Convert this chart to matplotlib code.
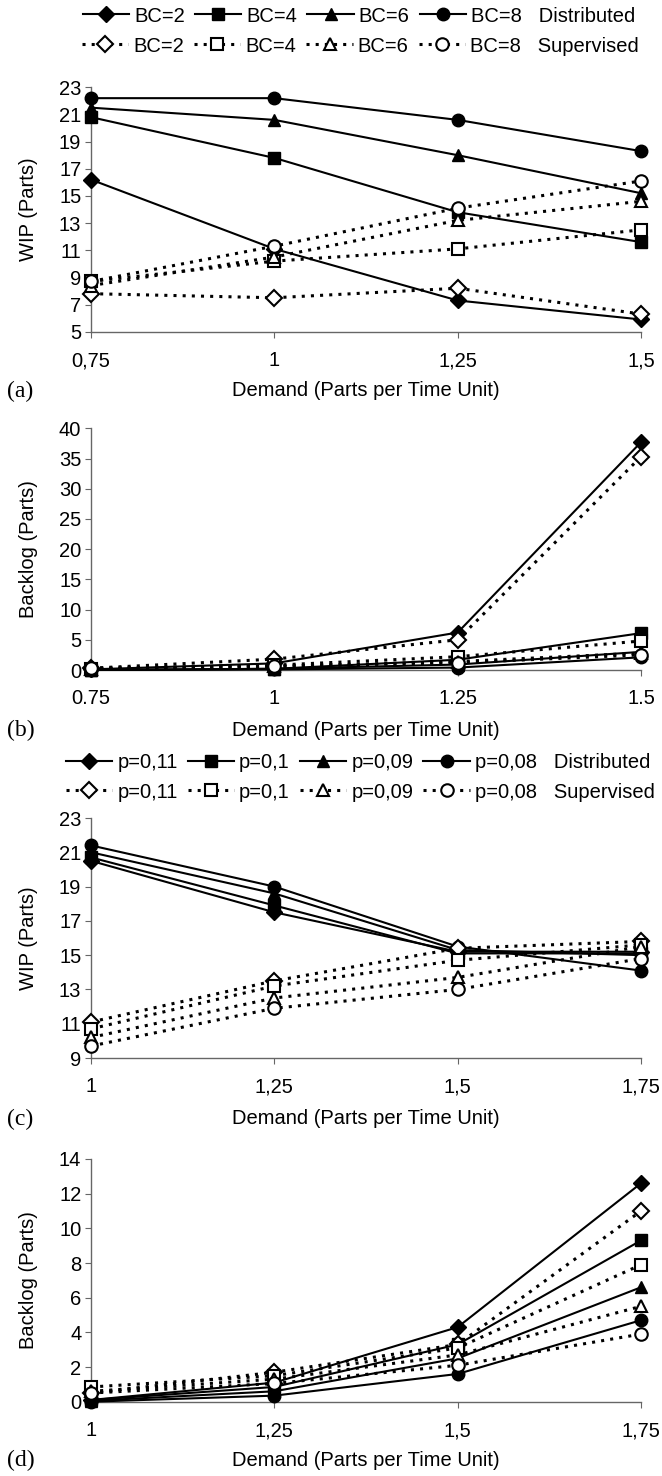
import numpy as np
import matplotlib.pyplot as plt

plt.rcParams['font.family'] = ['Liberation Sans', 'DejaVu Sans']

# x values and tick labels
demand_ab = [0.75, 1, 1.25, 1.5]
demand_cd = [1, 1.25, 1.5, 1.75]
ticks_a = ['0,75', '1', '1,25', '1,5']
ticks_b = ['0.75', '1', '1.25', '1.5']
ticks_cd = ['1', '1,25', '1,5', '1,75']

bc_labels = ['BC=2', 'BC=4', 'BC=6', 'BC=8']
p_labels = ['p=0,11', 'p=0,1', 'p=0,09', 'p=0,08']

# (a) WIP vs demand, buffer capacity
wip_a_dist = [[16.2, 11.1, 7.3, 5.9],
              [20.8, 17.8, 13.8, 11.6],
              [21.5, 20.6, 18.0, 15.2],
              [22.2, 22.2, 20.6, 18.3]]
wip_a_sup = [[7.8, 7.5, 8.2, 6.3],
             [8.7, 10.2, 11.1, 12.5],
             [8.4, 10.5, 13.2, 14.6],
             [8.7, 11.3, 14.1, 16.1]]

# (b) backlog vs demand, buffer capacity
bl_b_dist = [[0.1, 1.1, 6.2, 37.7],
             [0.0, 0.2, 1.7, 6.1],
             [0.0, 0.2, 0.9, 3.0],
             [0.0, 0.1, 0.4, 2.1]]
bl_b_sup = [[0.3, 1.8, 5.0, 35.3],
            [0.2, 0.8, 2.2, 4.8],
            [0.2, 0.6, 1.4, 2.8],
            [0.3, 0.6, 1.2, 2.5]]

# (c) WIP vs demand, failure probability
wip_c_dist = [[20.5, 17.5, 15.2, 15.2],
              [20.7, 17.9, 15.1, 15.1],
              [21.0, 18.6, 15.3, 15.0],
              [21.4, 19.0, 15.5, 14.1]]
wip_c_sup = [[11.1, 13.5, 15.4, 15.8],
             [10.7, 13.2, 14.7, 15.6],
             [10.2, 12.5, 13.7, 15.5],
             [9.7, 11.9, 13.0, 14.8]]

# (d) backlog vs demand, failure probability
bl_d_dist = [[0.1, 1.1, 4.3, 12.6],
             [0.1, 0.85, 3.3, 9.3],
             [0.05, 0.6, 2.5, 6.6],
             [0.0, 0.35, 1.6, 4.7]]
bl_d_sup = [[0.5, 1.7, 3.3, 11.0],
            [0.85, 1.5, 3.1, 7.9],
            [0.6, 1.3, 2.7, 5.5],
            [0.5, 1.05, 2.1, 3.9]]

markers = ['D', 's', '^', 'o']
msizes = [8.5, 8, 9, 9]
dotted = (0, (1, 2))
FS = 14.5
H = 1476.0
W = 662.0

fig = plt.figure(figsize=(6.62, 14.76), dpi=100)


def make_axes(top, bottom):
    left, right = 91, 641
    return fig.add_axes([left / W, 1 - bottom / H, (right - left) / W, (bottom - top) / H])


def draw(ax, x, dist, sup, ymin, ymax, ystep, xtl, ylabel):
    hd, hs = [], []
    for vals, m, ms in zip(dist, markers, msizes):
        l, = ax.plot(x, vals, color='black', lw=1.5, marker=m, ms=ms,
                     mfc='black', mec='black', clip_on=False, zorder=3)
        hd.append(l)
    for vals, m, ms in zip(sup, markers, msizes):
        l, = ax.plot(x, vals, color='black', lw=2.2, ls=dotted, marker=m, ms=ms,
                     mfc='white', mec='black', mew=1.5, clip_on=False, zorder=4)
        hs.append(l)
    ax.set_xlim(x[0], x[-1])
    ax.set_ylim(ymin, ymax)
    ax.set_yticks(np.arange(ymin, ymax + 0.1, ystep))
    ax.set_xticks(x)
    ax.set_xticklabels(xtl)
    for s in ['top', 'right']:
        ax.spines[s].set_visible(False)
    for s in ['left', 'bottom']:
        ax.spines[s].set_color('#666666')
        ax.spines[s].set_linewidth(1.0)
    ax.tick_params(axis='y', length=4, width=0.8, color='#666666', pad=3, labelsize=FS)
    ax.tick_params(axis='x', length=4, width=0.8, color='#666666', pad=10, labelsize=FS)
    ax.set_ylabel(ylabel, fontsize=FS)
    ax.yaxis.set_label_coords((38 - 91) / 550.0, 0.5)
    return hd, hs


def legend_row(handles, labels, x0, y):
    fig.legend(handles, labels, loc='center left', bbox_to_anchor=(x0 / W, 1 - y / H),
               ncol=4, frameon=False, fontsize=FS, handlelength=2.3, handletextpad=0.25,
               columnspacing=0.5, borderpad=0, borderaxespad=0, numpoints=1)


def caption(y, letter):
    fig.text(366 / W, 1 - y / H, 'Demand (Parts per Time Unit)', ha='center', va='center', fontsize=FS)
    fig.text(7 / W, 1 - y / H, letter, ha='left', va='center', fontsize=17, family='Liberation Serif')


ax_a = make_axes(87.3, 331.7)
hd, hs = draw(ax_a, demand_ab, wip_a_dist, wip_a_sup, 5, 23, 2, ticks_a, 'WIP (Parts)')
legend_row(hd, bc_labels[:3] + [bc_labels[3] + '   Distributed'], 83, 16)
legend_row(hs, bc_labels[:3] + [bc_labels[3] + '   Supervised'], 82, 46)
caption(391, '(a)')

ax_b = make_axes(428.3, 670)
draw(ax_b, demand_ab, bl_b_dist, bl_b_sup, 0, 40, 5, ticks_b, 'Backlog (Parts)')
caption(730, '(b)')

ax_c = make_axes(818, 1058)
hd, hs = draw(ax_c, demand_cd, wip_c_dist, wip_c_sup, 9, 23, 2, ticks_cd, 'WIP (Parts)')
legend_row(hd, p_labels[:3] + [p_labels[3] + '   Distributed'], 66, 763)
legend_row(hs, p_labels[:3] + [p_labels[3] + '   Supervised'], 66, 792)
caption(1119, '(c)')

ax_d = make_axes(1159, 1401.7)
draw(ax_d, demand_cd, bl_d_dist, bl_d_sup, 0, 14, 2, ticks_cd, 'Backlog (Parts)')
caption(1460, '(d)')

fig.savefig('out.png', dpi=100)
